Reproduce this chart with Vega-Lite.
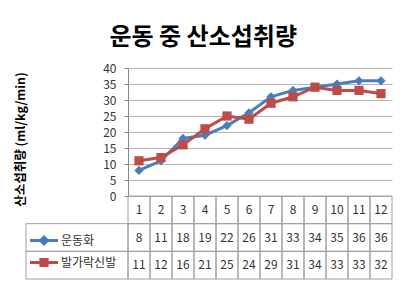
{
  "$schema": "https://vega.github.io/schema/vega-lite/v6.json",
  "background": "white",
  "padding": {"left": 13, "top": 26, "right": 5, "bottom": 5},
  "title": {"text": "운동 중 산소섭취량", "fontSize": 24, "fontWeight": "bold", "font": "Noto Sans CJK KR", "color": "black", "anchor": "middle", "offset": 12},
  "datasets": {
    "oxy": [
      {"t": 1, "series": "운동화", "v": 8},
      {"t": 2, "series": "운동화", "v": 11},
      {"t": 3, "series": "운동화", "v": 18},
      {"t": 4, "series": "운동화", "v": 19},
      {"t": 5, "series": "운동화", "v": 22},
      {"t": 6, "series": "운동화", "v": 26},
      {"t": 7, "series": "운동화", "v": 31},
      {"t": 8, "series": "운동화", "v": 33},
      {"t": 9, "series": "운동화", "v": 34},
      {"t": 10, "series": "운동화", "v": 35},
      {"t": 11, "series": "운동화", "v": 36},
      {"t": 12, "series": "운동화", "v": 36},
      {"t": 1, "series": "발가락신발", "v": 11},
      {"t": 2, "series": "발가락신발", "v": 12},
      {"t": 3, "series": "발가락신발", "v": 16},
      {"t": 4, "series": "발가락신발", "v": 21},
      {"t": 5, "series": "발가락신발", "v": 25},
      {"t": 6, "series": "발가락신발", "v": 24},
      {"t": 7, "series": "발가락신발", "v": 29},
      {"t": 8, "series": "발가락신발", "v": 31},
      {"t": 9, "series": "발가락신발", "v": 34},
      {"t": 10, "series": "발가락신발", "v": 33},
      {"t": 11, "series": "발가락신발", "v": 33},
      {"t": 12, "series": "발가락신발", "v": 32}
    ]
  },
  "columns": 2,
  "spacing": 0,
  "bounds": "flush",
  "align": "each",
  "resolve": {
    "scale": {"x": "independent", "y": "independent", "color": "independent", "shape": "independent"},
    "legend": {"color": "independent", "shape": "independent"}
  },
  "concat": [
    {
      "width": 102,
      "height": 128,
      "data": {"values": [{}]},
      "mark": {"type": "point", "opacity": 0},
      "encoding": {}
    },
    {
      "width": 264,
      "height": 128,
      "data": {"name": "oxy"},
      "encoding": {
        "x": {"field": "t", "type": "ordinal", "axis": null, "scale": {"padding": 0.5}},
        "y": {
          "field": "v",
          "type": "quantitative",
          "scale": {"domain": [0, 40]},
          "axis": {
            "values": [0, 5, 10, 15, 20, 25, 30, 35, 40],
            "title": "산소섭취량 (ml/kg/min)",
            "titleFont": "Noto Sans CJK KR",
            "titleFontSize": 12.5,
            "titleFontWeight": "bold",
            "titleColor": "black",
            "titleY": 71,
            "titleX": -108,
            "titleBaseline": "middle",
            "titleAlign": "center",
            "labelFontSize": 12,
            "labelColor": "#333333",
            "tickSize": 4,
            "labelPadding": 8,
            "tickColor": "#888888",
            "domainColor": "#888888",
            "gridColor": "#b3b3b3"
          }
        },
        "color": {"field": "series", "type": "nominal", "scale": {"domain": ["운동화", "발가락신발"], "range": ["#4A7EBB", "#BE4B48"]}, "legend": null}
      },
      "layer": [
        {"mark": {"type": "line", "strokeWidth": 3}},
        {
          "mark": {"type": "point", "filled": true, "opacity": 1, "size": 85},
          "encoding": {
            "shape": {"field": "series", "type": "nominal", "scale": {"domain": ["운동화", "발가락신발"], "range": ["diamond", "square"]}, "legend": null}
          }
        }
      ]
    },
    {
      "width": 102,
      "height": 83,
      "data": {"values": [{"series": "운동화"}, {"series": "발가락신발"}]},
      "encoding": {
        "y": {"field": "series", "type": "nominal", "scale": {"domain": ["x", "운동화", "발가락신발"], "paddingInner": 0, "paddingOuter": 0}, "axis": null}
      },
      "layer": [
        {"mark": {"type": "rect", "filled": false, "stroke": "#a0a0a0", "strokeWidth": 1}},
        {
          "mark": {"type": "point", "filled": true, "opacity": 0},
          "encoding": {
            "color": {
              "field": "series", "type": "nominal",
              "scale": {"domain": ["운동화", "발가락신발"], "range": ["#4A7EBB", "#BE4B48"]},
              "legend": {"orient": "none", "legendX": 4, "legendY": 30.5, "title": null, "symbolSize": 784, "symbolOpacity": 1, "symbolStrokeWidth": 0, "labelFontSize": 12, "labelColor": "#333333", "labelOffset": 3, "rowPadding": 2, "padding": 0, "labelFont": "Noto Sans CJK KR"}
            },
            "shape": {
              "field": "series", "type": "nominal",
              "scale": {"domain": ["운동화", "발가락신발"], "range": ["M-1,-0.1H1V0.1H-1ZM0,-0.4L0.4,0L0,0.4L-0.4,0Z", "M-1,-0.1H1V0.1H-1ZM-0.33,-0.33H0.33V0.33H-0.33Z"]},
              "legend": {"orient": "none", "legendX": 4, "legendY": 30.5, "title": null, "symbolSize": 784, "symbolOpacity": 1, "symbolStrokeWidth": 0, "labelFontSize": 12, "labelColor": "#333333", "labelOffset": 3, "rowPadding": 2, "padding": 0, "labelFont": "Noto Sans CJK KR"}
            }
          }
        }
      ]
    },
    {
      "width": 264,
      "height": 83,
      "data": {"name": "oxy"},
      "encoding": {
        "x": {"field": "t", "type": "ordinal", "scale": {"paddingInner": 0, "paddingOuter": 0}, "axis": null}
      },
      "layer": [
        {
          "mark": {"type": "rect", "filled": false, "stroke": "#a0a0a0", "strokeWidth": 1},
          "encoding": {"y": {"field": "series", "type": "nominal", "scale": {"domain": ["x", "운동화", "발가락신발"], "paddingInner": 0, "paddingOuter": 0}, "axis": null}}
        },
        {
          "transform": [{"filter": "datum.series === '운동화'"}],
          "mark": {"type": "rect", "filled": false, "stroke": "#a0a0a0", "strokeWidth": 1},
          "encoding": {"y": {"datum": "x", "type": "nominal"}}
        },
        {
          "mark": {"type": "text", "fontSize": 12, "color": "#333333"},
          "encoding": {
            "y": {"field": "series", "type": "nominal"},
            "text": {"field": "v", "type": "quantitative"}
          }
        },
        {
          "transform": [{"filter": "datum.series === '운동화'"}],
          "mark": {"type": "text", "fontSize": 12, "color": "#333333"},
          "encoding": {
            "y": {"datum": "x", "type": "nominal"},
            "text": {"field": "t", "type": "ordinal"}
          }
        }
      ]
    }
  ],
  "config": {
    "view": {"stroke": null},
    "font": "Noto Sans CJK KR"
  }
}
